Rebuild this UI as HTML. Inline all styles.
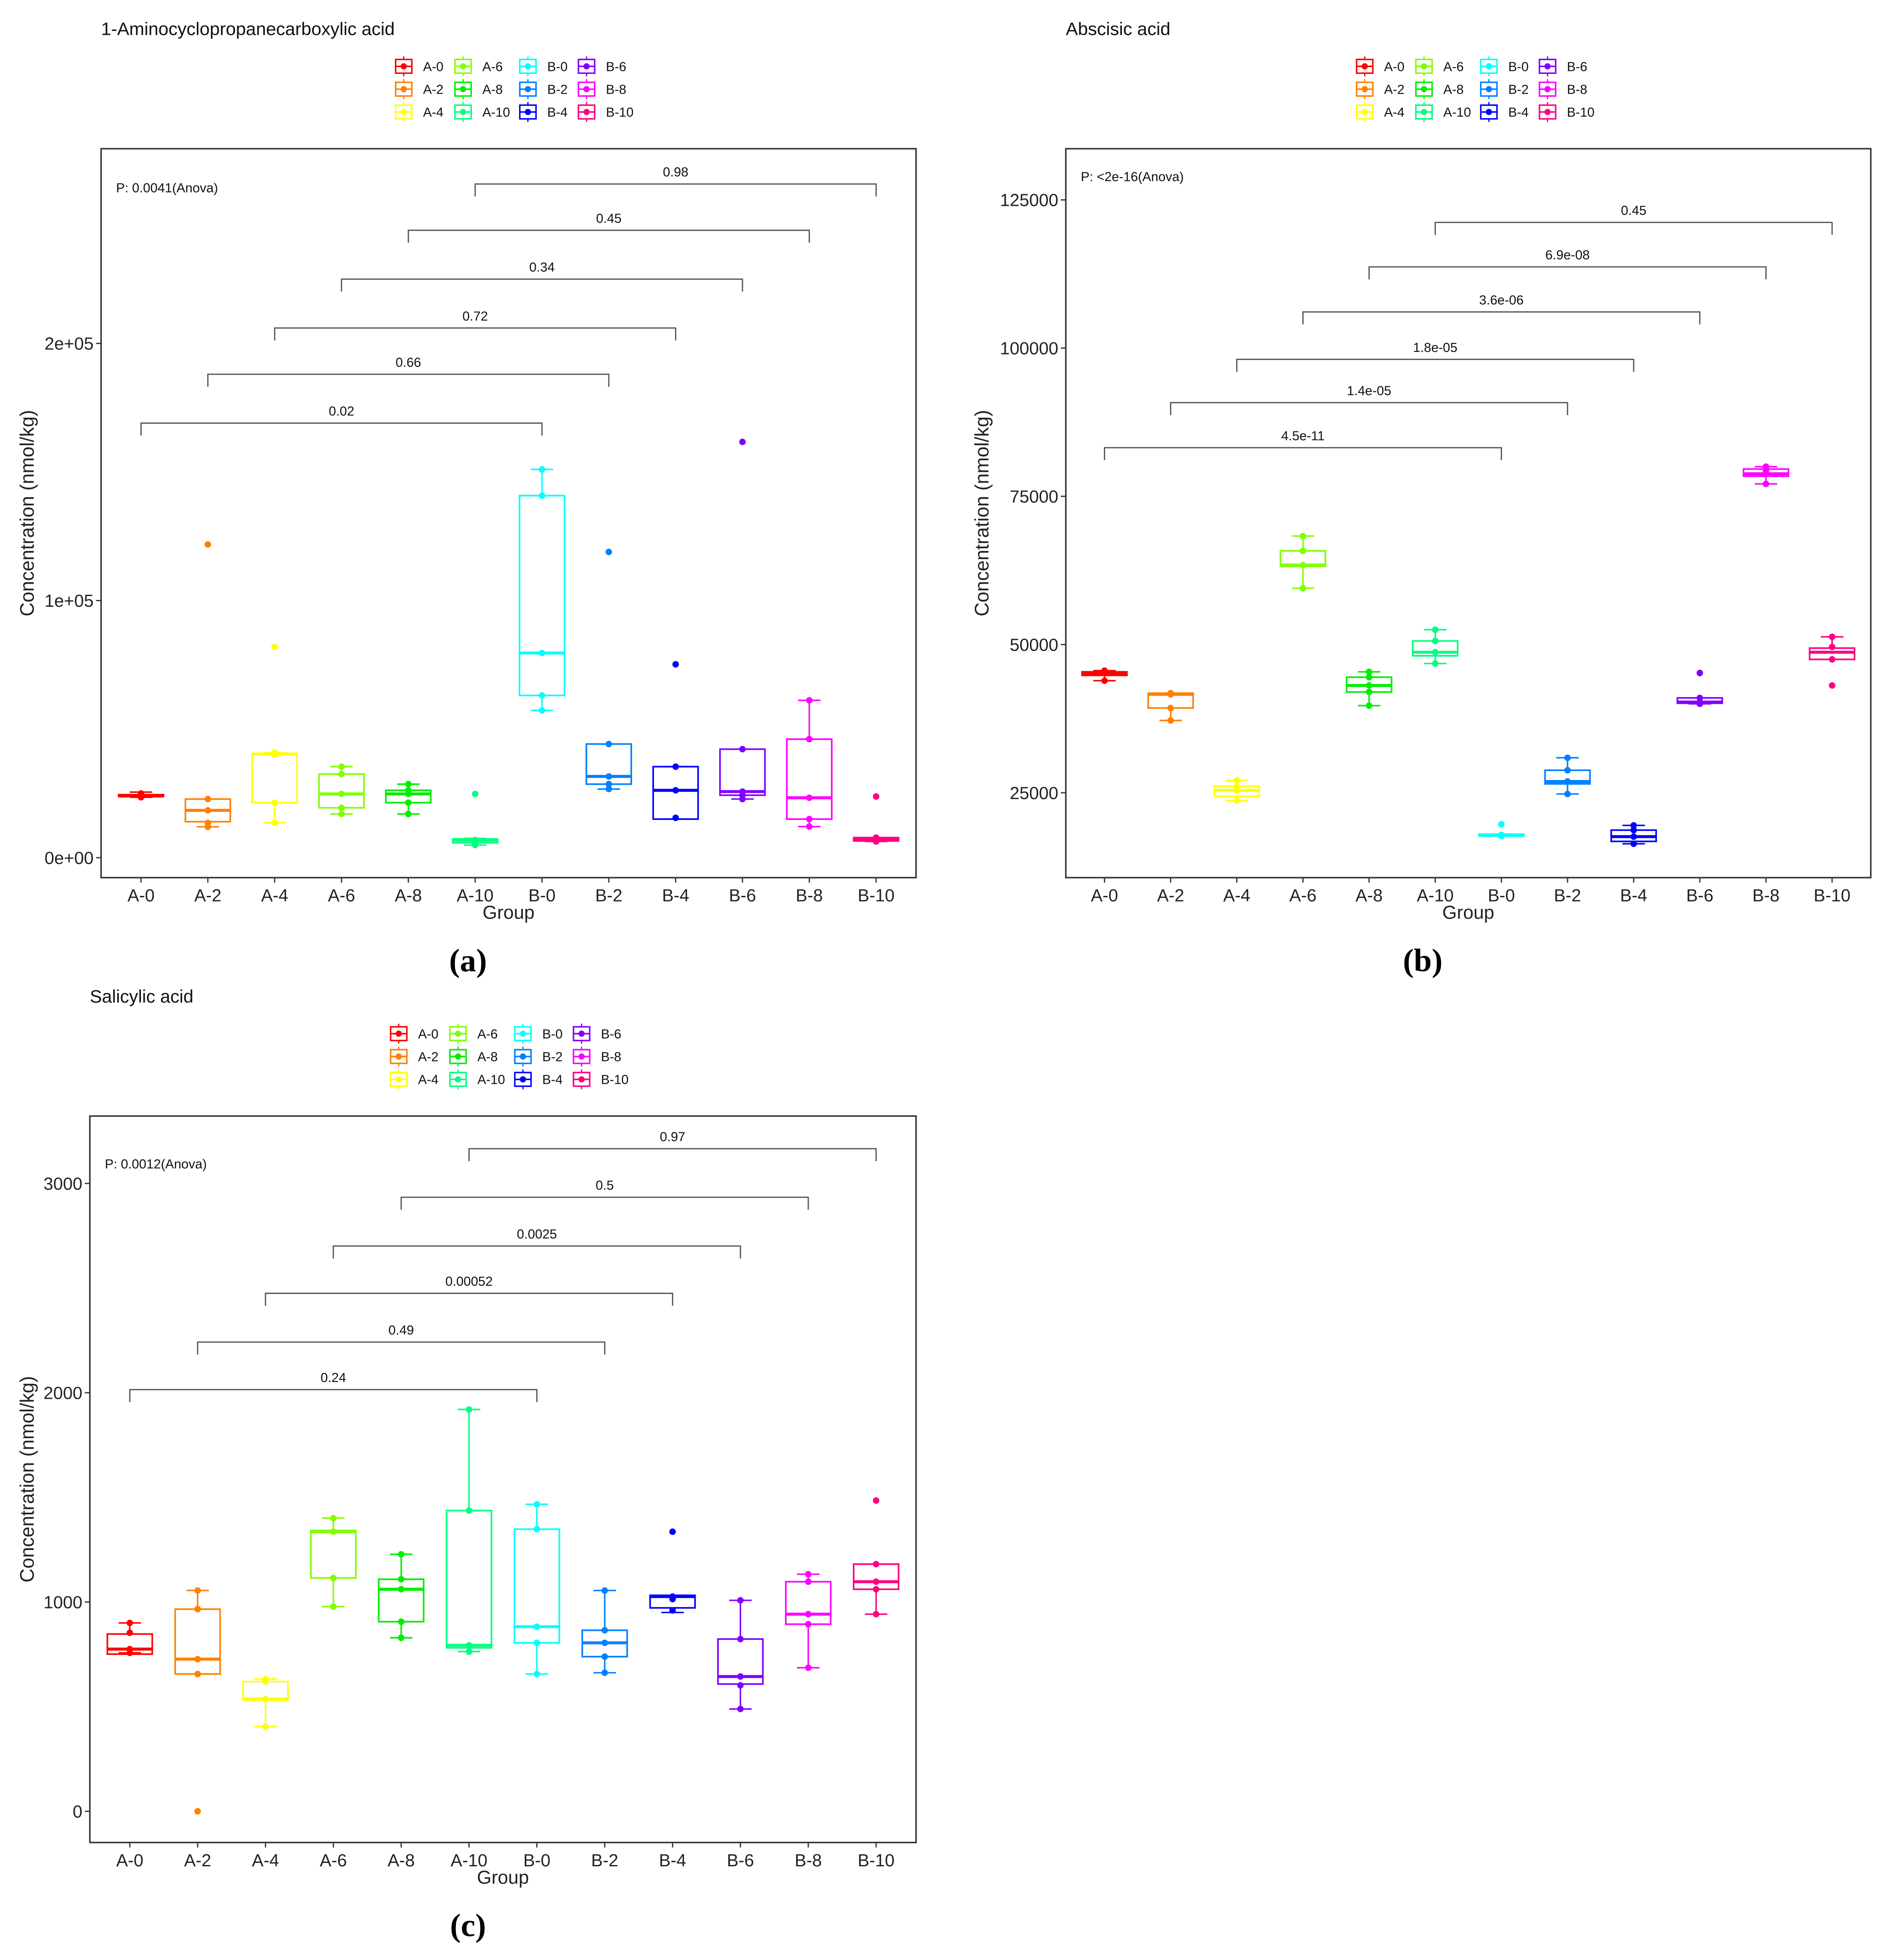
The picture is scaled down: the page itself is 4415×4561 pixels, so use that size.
<!DOCTYPE html>
<html><head><meta charset="utf-8"><style>
html,body{margin:0;padding:0;background:#fff;}
svg{display:block;font-family:"Liberation Sans",sans-serif;}
</style></head><body>
<svg id="root" width="4415" height="4561" viewBox="0 0 1520 1570" xmlns="http://www.w3.org/2000/svg">
<rect width="1520" height="1570" fill="#fff"/>
</svg>
<script>
const groups=["A-0","A-2","A-4","A-6","A-8","A-10","B-0","B-2","B-4","B-6","B-8","B-10"];
const colors=["#FF0000","#FF8000","#FFFF00","#80FF00","#00EE00","#00FF80","#00FFFF","#0080FF","#0000FF","#8000FF","#FF00FF","#FF0080"];
const pairs=[[0,6],[1,7],[2,8],[3,9],[4,10],[5,11]];

// Panel a (values in nmol/kg)
const aLo=[23500,12000,13600,17000,17000,4900,57300,26700,15000,22800,12100,6300];
const aQ1=[23800,14000,21400,19400,21400,5800,63100,28600,15000,24300,15000,6500];
const aMed=[24000,18400,40300,24800,24800,6800,79600,31600,26200,25700,23300,7000];
const aQ3=[24500,22800,40300,32500,26200,7300,140800,44200,35400,42200,46100,7800];
const aHi=[25500,22800,40800,35400,28600,7500,151000,44200,35400,42200,61200,7800];
const aPts=[[23500,25000,24500,24000],[22800,18400,13500,12000,121800],[40800,40000,21400,13600,82000],[35400,32500,24800,19400,17000],[28600,26200,24800,21400,17000],[6800,6800,5800,4900,24800],[151000,140800,79600,63100,57300],[118900,44200,31600,28600,26700],[75200,35400,26200,15500],[161700,42200,25700,24300,22800],[61200,46100,23300,15000,12100],[23800,7800,7300,6800,6300]];
const aBrY=[169000,188000,206000,225000,244000,262000];
const aBrLab=["0.02","0.66","0.72","0.34","0.45","0.98"];
const aTicks=[0,100000,200000];
const aTickLab=["0e+00","1e+05","2e+05"];

// Panel b
const bLo=[43900,37200,23700,59500,39700,46800,17700,24800,16400,40000,77100,47500];
const bQ1=[44800,39300,24400,63200,42000,48100,17700,26500,16800,40100,78400,47500];
const bMed=[45100,41600,25400,63400,43100,48700,17900,26900,17600,40300,78800,48700];
const bQ3=[45400,41800,26100,65800,44500,50600,18000,28800,18700,41000,79600,49400];
const bHi=[45600,41800,27100,68300,45400,52500,18000,30900,19500,41000,80000,51300];
const bPts=[[45600,45300,43900],[41800,41600,39300,37200],[27100,26000,25400,23700],[68300,65800,63400,59500],[45400,44500,43100,42000,39700],[52500,50600,48700,46800],[19700,17900,17700],[30900,28800,26900,24800],[19500,18700,17600,16400],[45200,41000,40300,40000],[80000,79200,77100],[51300,49600,47500,43100]];
const bBrY=[83200,90800,98100,106100,113700,121200];
const bBrLab=["4.5e-11","1.4e-05","1.8e-05","3.6e-06","6.9e-08","0.45"];
const bTicks=[25000,50000,75000,100000,125000];
const bTickLab=["25000","50000","75000","100000","125000"];

// Panel c
const cLo=[757,656,405,978,829,763,656,662,950,489,686,942];
const cQ1=[751,656,531,1115,906,781,805,739,972,608,894,1061];
const cMed=[775,727,537,1336,1061,793,882,805,1026,644,942,1097];
const cQ3=[847,966,620,1342,1109,1437,1348,865,1032,823,1097,1181];
const cHi=[900,1055,632,1401,1228,1920,1467,1055,1032,1008,1133,1181];
const cPts=[[900,853,775,757],[1055,966,727,656,0],[632,620,537,405],[1401,1336,1115,978],[1228,1109,1061,906,829],[1920,1437,793,763],[1467,1348,882,805,656],[1055,865,805,739,662],[1336,1026,1014,960],[1008,823,644,602,489],[1133,1097,942,894,686],[1485,1181,1097,1061,942]];
const cBrY=[2015,2242,2475,2701,2934,3166];
const cBrLab=["0.24","0.49","0.00052","0.0025","0.5","0.97"];
const cTicks=[0,1000,2000,3000];
const cTickLab=["0","1000","2000","3000"];

const NS="http://www.w3.org/2000/svg";
const root=document.getElementById('root');
function mk(tag,attrs,parent,text){const e=document.createElementNS(NS,tag);for(const k in attrs)e.setAttribute(k,attrs[k]);if(text!==undefined)e.textContent=text;(parent||root).appendChild(e);return e;}

function panel(cfg){
  const g=mk('g',{});
  
  
  const L=cfg.left,R=cfg.right,T=cfg.top,B=cfg.bottom;
  const xs=i=>cfg.x0+i*(cfg.x1-cfg.x0)/11;
  const ys=v=>cfg.yA+(v-cfg.vA)*(cfg.yB-cfg.yA)/(cfg.vB-cfg.vA);
  const t=mk('text',{x:L,y:cfg.top-91,'font-size':14.5,fill:'#111'},g,cfg.title);
  
  
  const lg=mk('g',{},g);
  
  
  const colX=[0,47.5,99.5,146.5];
  for(let i=0;i<12;i++){
    const c=Math.floor(i/3),r=i%3;
    const kx=cfg.legX+colX[c],ky=cfg.top-66+r*18.3;
    const e=mk('g',{},lg);
    
    
    mk('line',{x1:kx,x2:kx,y1:ky-8,y2:ky+8,stroke:colors[i],'stroke-width':1},e);
    mk('rect',{x:kx-6.5,y:ky-5.5,width:13,height:11,fill:'#fff',stroke:colors[i],'stroke-width':1.2},e);
    mk('line',{x1:kx-6.5,x2:kx+6.5,y1:ky,y2:ky,stroke:colors[i],'stroke-width':1.2},e);
    mk('circle',{cx:kx,cy:ky,r:2.5,fill:colors[i]},e);
    mk('text',{x:kx+15.5,y:ky+3.8,'font-size':10.5,fill:'#111'},e,groups[i]);
  }
  const fr=mk('rect',{x:L,y:T,width:R-L,height:B-T,fill:'none',stroke:'#333','stroke-width':1.2},g);
  
  
  const p=mk('text',{x:L+12,y:cfg.pY,'font-size':10.5,fill:'#111'},g,cfg.ptext);
  
  
  cfg.ticks.forEach((v,k)=>{
    const y=ys(v);
    const tk=mk('line',{x1:L-4,x2:L,y1:y,y2:y,stroke:'#333','stroke-width':1},g);
    
    
    const tl=mk('text',{x:L-6,y:y+5,'font-size':14,'text-anchor':'end',fill:'#222'},g,cfg.tickLab[k]);
    
    
  });
  groups.forEach((gname,i)=>{
    const x=xs(i);
    const tk=mk('line',{x1:x,x2:x,y1:B,y2:B+4,stroke:'#333','stroke-width':1},g);
    
    
    const tl=mk('text',{x:x,y:B+19,'font-size':14,'text-anchor':'middle',fill:'#222'},g,gname);
    
    
  });
  const xt=mk('text',{x:(L+R)/2,y:B+33,'font-size':15,'text-anchor':'middle',fill:'#222'},g,'Group');
  
  
  const cy=(T+B)/2;
  const yt=mk('text',{x:cfg.yTitleX,y:cy,'font-size':15.5,'text-anchor':'middle',fill:'#222',transform:`rotate(-90 ${cfg.yTitleX} ${cy})`},g,'Concentration (nmol/kg)');
  
  
  const hw=18;
  groups.forEach((gname,i)=>{
    const x=xs(i),col=colors[i];
    const bx=mk('g',{},g);
    
    
    mk('line',{x1:x,x2:x,y1:ys(cfg.hi[i]),y2:ys(cfg.q3[i]),stroke:col,'stroke-width':1.2},bx);
    mk('line',{x1:x,x2:x,y1:ys(cfg.q1[i]),y2:ys(cfg.lo[i]),stroke:col,'stroke-width':1.2},bx);
    mk('line',{x1:x-9,x2:x+9,y1:ys(cfg.hi[i]),y2:ys(cfg.hi[i]),stroke:col,'stroke-width':1.2},bx);
    mk('line',{x1:x-9,x2:x+9,y1:ys(cfg.lo[i]),y2:ys(cfg.lo[i]),stroke:col,'stroke-width':1.2},bx);
    const y3=ys(cfg.q3[i]),y1=ys(cfg.q1[i]);
    mk('rect',{x:x-hw,y:Math.min(y3,y1),width:2*hw,height:Math.max(Math.abs(y1-y3),0.5),fill:'none',stroke:col,'stroke-width':1.3},bx);
    mk('line',{x1:x-hw,x2:x+hw,y1:ys(cfg.med[i]),y2:ys(cfg.med[i]),stroke:col,'stroke-width':2.4},bx);
    cfg.pts[i].forEach(v=>{
      const c=mk('circle',{cx:x,cy:ys(v),r:2.6,fill:col},bx);
      
      
    });
  });
  pairs.forEach((pr,k)=>{
    const y=ys(cfg.brY[k]),xa=xs(pr[0]),xb=xs(pr[1]);
    const bg=mk('g',{},g);
    
    
    mk('path',{d:`M${xa},${y+10}V${y}H${xb}V${y+10}`,fill:'none',stroke:'#555','stroke-width':1},bg);
    mk('text',{x:(xa+xb)/2,y:y-6,'font-size':10.5,'text-anchor':'middle',fill:'#111'},bg,cfg.brLab[k]);
  });
  const pl=mk('text',{x:cfg.labX,y:B+75,'font-size':26,'font-weight':'bold','text-anchor':'middle',fill:'#000','font-family':'Liberation Serif, serif'},g,cfg.letter);
  
  
}

panel({name:'panel-a-acc',title:'1-Aminocyclopropanecarboxylic acid',left:81,right:734,top:119,bottom:703,x0:113,x1:702,
  yA:687,vA:0,yB:275,vB:200000,lo:aLo,q1:aQ1,med:aMed,q3:aQ3,hi:aHi,pts:aPts,brY:aBrY,brLab:aBrLab,ticks:aTicks,tickLab:aTickLab,
  ptext:'P: 0.0041(Anova)',pY:154,legX:323.5,yTitleX:27,labX:375,letter:'(a)'});
panel({name:'panel-b-aba',title:'Abscisic acid',left:854,right:1499,top:119,bottom:703,x0:885,x1:1468,
  yA:635,vA:25000,yB:160,vB:125000,lo:bLo,q1:bQ1,med:bMed,q3:bQ3,hi:bHi,pts:bPts,brY:bBrY,brLab:bBrLab,ticks:bTicks,tickLab:bTickLab,
  ptext:'P: <2e-16(Anova)',pY:145,legX:1093.5,yTitleX:792,labX:1140,letter:'(b)'});
panel({name:'panel-c-sa',title:'Salicylic acid',left:72,right:734,top:894,bottom:1476,x0:104,x1:702,
  yA:1451,vA:0,yB:948,vB:3000,lo:cLo,q1:cQ1,med:cMed,q3:cQ3,hi:cHi,pts:cPts,brY:cBrY,brLab:cBrLab,ticks:cTicks,tickLab:cTickLab,
  ptext:'P: 0.0012(Anova)',pY:936,legX:319.5,yTitleX:27,labX:375,letter:'(c)'});
</script>
</body></html>
